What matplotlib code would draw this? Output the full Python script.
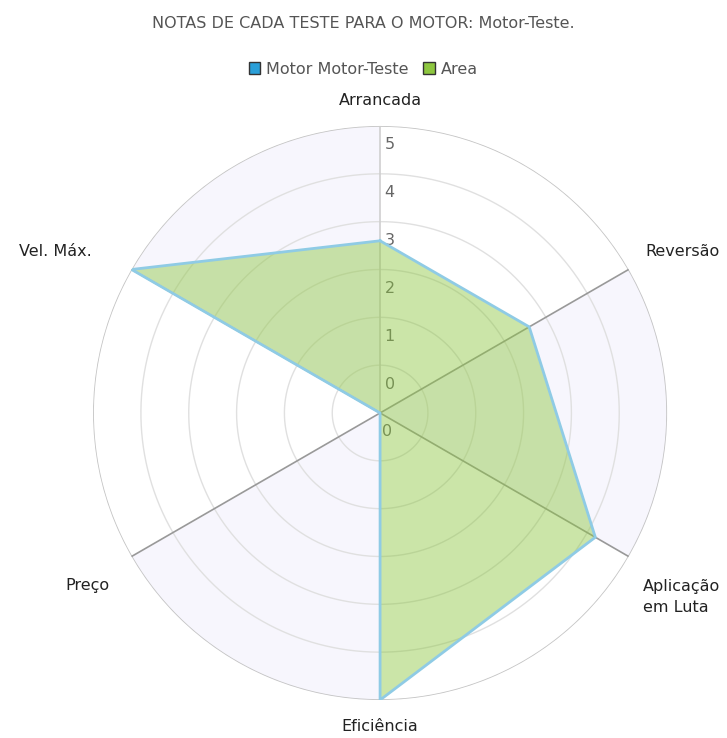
import numpy as np
import matplotlib
matplotlib.use("Agg")
import matplotlib.pyplot as plt
from matplotlib.patches import Patch

# Data
categories = ["Arrancada", "Reversão", "Aplicação\nem Luta", "Eficiência", "Preço", "Vel. Máx."]
scores = [3.0, 3.0, 4.33, 5.0, 0.0, 5.0]
tick_labels = ["0", "0", "1", "2", "3", "4", "5"]
title = "NOTAS DE CADA TESTE PARA O MOTOR: Motor-Teste."
series_name = "Motor Motor-Teste"
area_name = "Area"

rmax = 5.0
n = len(categories)
angles = np.linspace(0, 2 * np.pi, n, endpoint=False)

fig = plt.figure(figsize=(7.27, 7.38), dpi=100)
ax = fig.add_axes([0.128, 0.0515, 0.7896, 0.7778], projection="polar")
ax.set_theta_zero_location("N")
ax.set_theta_direction(-1)
ax.set_ylim(0, rmax)
ax.axis("off")

# alternating shaded sectors
for i in range(1, n, 2):
    th = np.linspace(angles[i], angles[i] + 2 * np.pi / n, 60)
    ax.fill_between(th, 0, rmax, color="#f7f6fd", zorder=0, lw=0)

# rings
rings = np.linspace(0, rmax, len(tick_labels))
th_full = np.linspace(0, 2 * np.pi, 400)
for r in rings[1:-1]:
    ax.plot(th_full, np.full_like(th_full, r), color="#e0e0e0", lw=1, zorder=1)
ax.plot(th_full, np.full_like(th_full, rmax), color="#c4c4c4", lw=1.2, zorder=1)

# spokes
for i, a in enumerate(angles):
    col = "#d0d0d0" if i == 0 else "#999999"
    ax.plot([a, a], [0, rmax], color=col, lw=1.2, zorder=1)

# radial tick labels (just below each ring, under the area fill)
offs = 0.33
for r, lab in zip(rings[::-1], tick_labels[::-1]):
    rr = r - offs
    if rr >= 0:
        ax.text(0.016 * rmax / max(rr, 0.3), rr, lab, fontsize=11.5,
                color="#666666", ha="left", va="center", zorder=1.5)
    else:
        ax.text(np.pi - 0.09, -rr, lab, fontsize=11.5,
                color="#666666", ha="left", va="center", zorder=1.5)

# data polygon
th = np.append(angles, angles[0])
vals = np.append(scores, scores[0])
ax.fill(th, vals, color="#8cc63f", alpha=0.45, zorder=2, lw=0)
ax.plot(th, vals, color="#8fcbe5", lw=2, zorder=3)

# category labels (angle offset, radius, alignment)
pos = [(0.0, 5.44, "center"),
       (np.deg2rad(-1.3), 5.40, "left"),
       (np.deg2rad(5.0), 5.59, "left"),
       (0.0, 5.47, "center"),
       (np.deg2rad(-2.5), 5.58, "right"),
       (np.deg2rad(-0.8), 5.75, "right")]
for a, lab, (da, r, ha) in zip(angles, categories, pos):
    ax.text(a + da, r, lab, fontsize=11.5, color="#222222", ha=ha, va="center",
            linespacing=1.45, clip_on=False)

fig.text(0.5, 1 - 24 / 738, title, ha="center", va="center", fontsize=11.5, color="#555555")
handles = [Patch(facecolor="#2a9fd8", edgecolor="#333333", label=series_name),
           Patch(facecolor="#8dc63f", edgecolor="#333333", label=area_name)]
fig.legend(handles=handles, loc="center", bbox_to_anchor=(0.5, 1 - 69 / 738), ncol=2,
           frameon=False, fontsize=11.5, handlelength=0.7, handleheight=0.7,
           handletextpad=0.4, columnspacing=0.9, labelcolor="#555555")

fig.savefig("out.png", dpi=100)
